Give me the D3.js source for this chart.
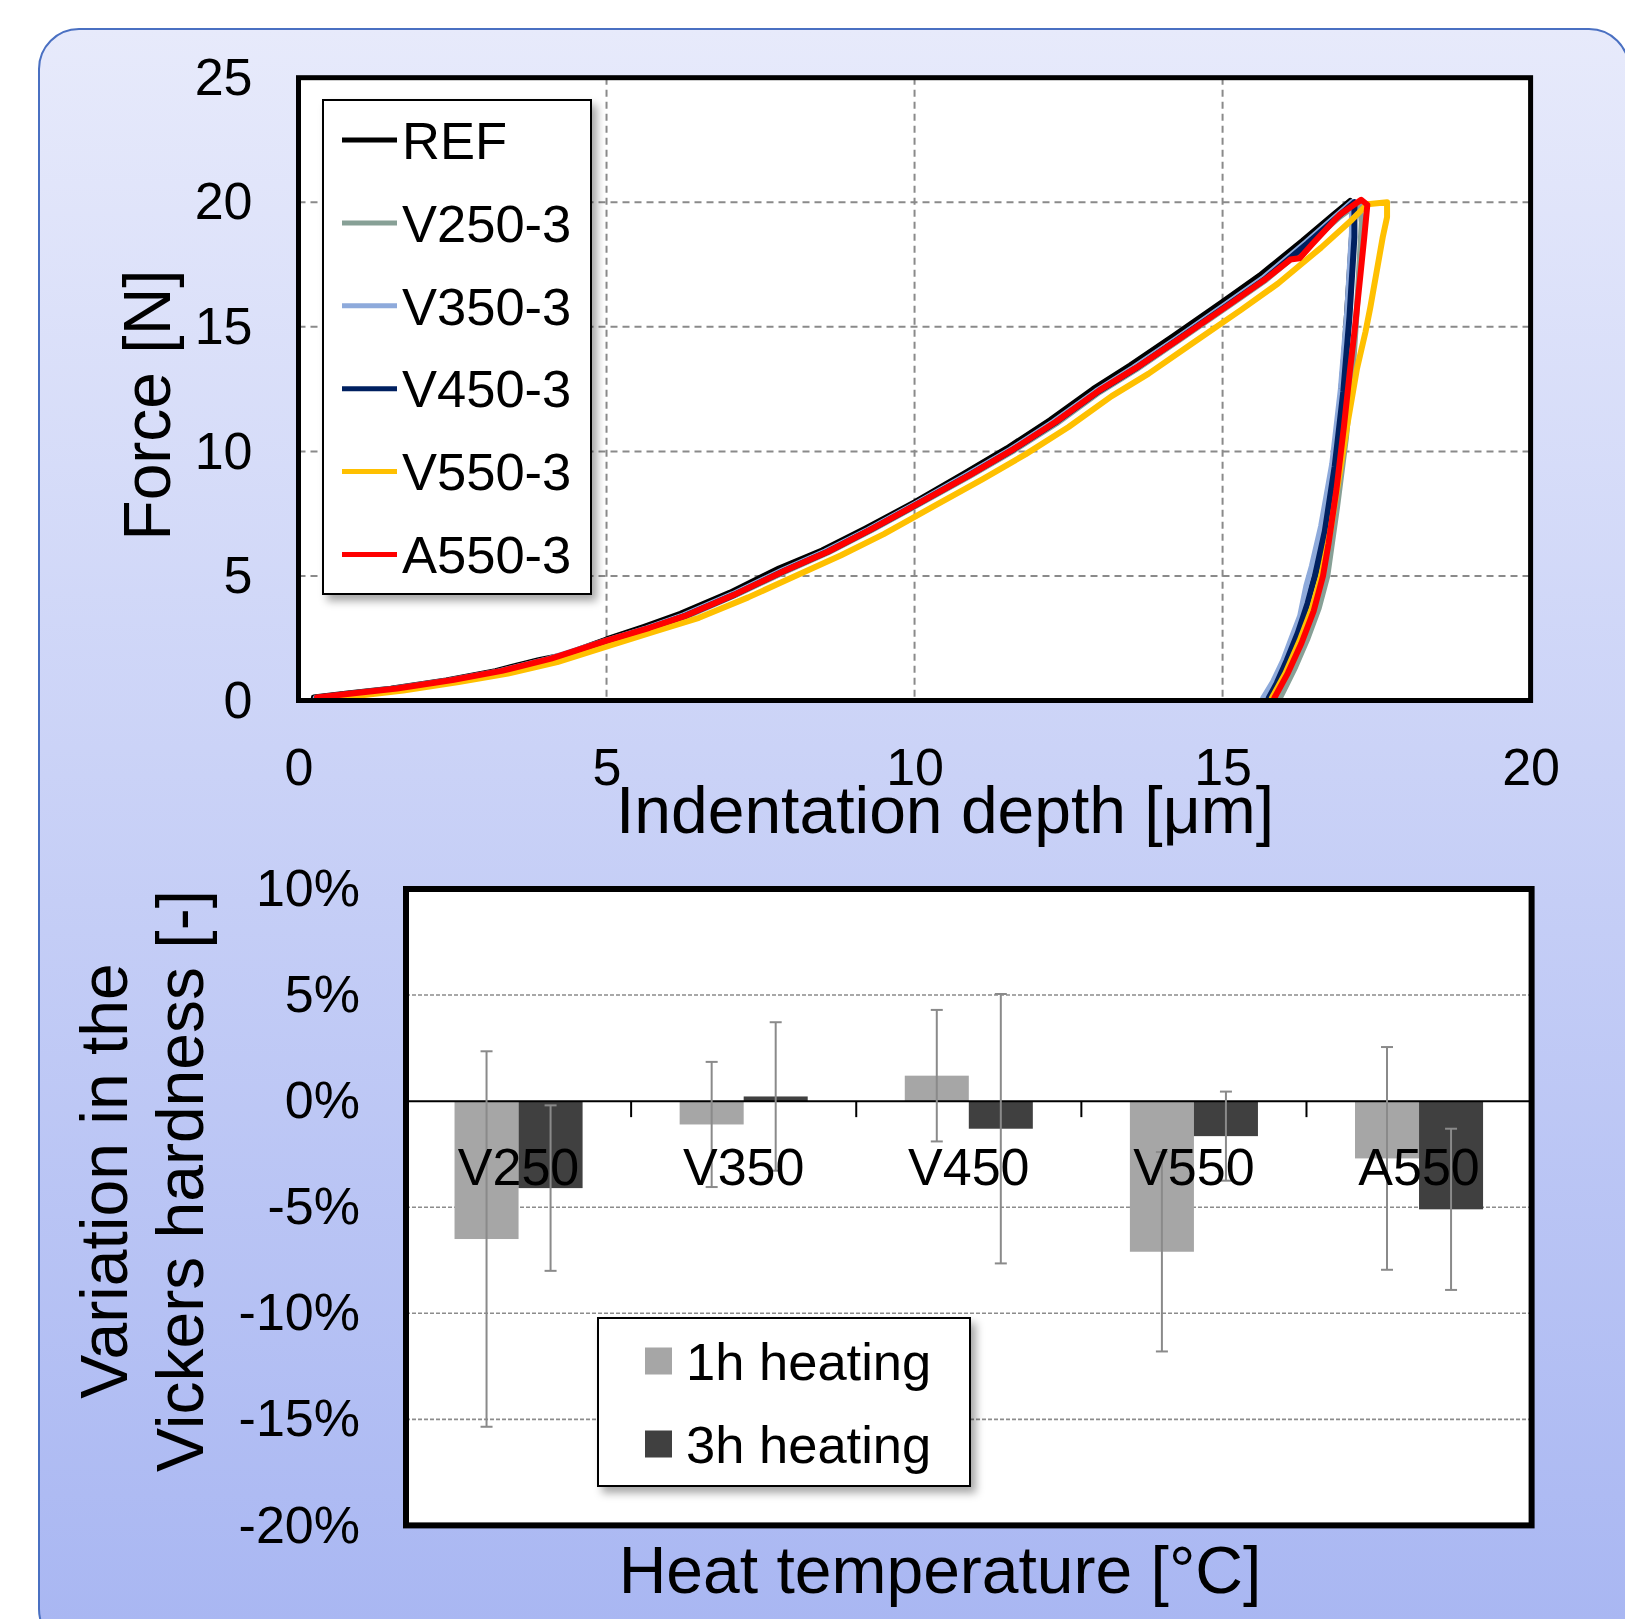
<!DOCTYPE html>
<html>
<head>
<meta charset="utf-8">
<script src="https://cdn.jsdelivr.net/npm/d3@7"></script>
<style>
html, body { margin: 0; padding: 0; background: #fff; }
svg text { font-family: "Liberation Sans", Arial, sans-serif; fill: #000; }
</style>
</head>
<body>
<svg id="chart" width="1625" height="1619"></svg>
<script>
// ---- top chart: indentation curves [depth um, force N] ----
var depthTicks = [0, 5, 10, 15, 20];
var forceTicks = [0, 5, 10, 15, 20, 25];
var seriesNames = ["REF", "V250-3", "V350-3", "V450-3", "V550-3", "A550-3"];
var seriesColors = ["#000000", "#87a096", "#8eaadb", "#002060", "#ffc000", "#ff0000"];

var curveREF = [[0.25,0.12],[0.8,0.28],[1.5,0.47],[2.4,0.8],[3.2,1.18],[3.9,1.62],[4.3,1.82],[5.0,2.45],[5.6,2.95],[6.2,3.48],[7.0,4.32],[7.8,5.3],[8.5,6.02],[9.2,6.9],[10.0,7.95],[10.8,9.1],[11.5,10.12],[12.2,11.25],[12.9,12.5],[13.5,13.45],[14.2,14.62],[15.0,16.0],[15.6,17.05],[16.3,18.45],[16.8,19.5],[17.07,20.05],
  [17.12,19.4],[17.06,17.0],[16.98,14.0],[16.88,11.0],[16.76,8.5],[16.62,6.2],[16.5,5.0],[16.36,3.9],[16.2,2.75],[16.05,1.85],[15.9,1.05],[15.78,0.35],[15.7,0.08]];
var curveV250 = [[0.3,0.1],[0.9,0.26],[1.6,0.46],[2.5,0.8],[3.3,1.15],[4.1,1.64],[5.0,2.36],[5.7,2.88],[6.3,3.38],[7.1,4.24],[7.9,5.18],[8.6,5.95],[9.3,6.84],[10.1,7.92],[10.9,9.02],[11.6,10.02],[12.3,11.12],[13.0,12.38],[13.6,13.3],[14.3,14.48],[15.1,15.84],[15.7,16.88],[16.4,18.32],[16.9,19.42],[17.22,20.0],
  [17.26,19.2],[17.2,16.5],[17.12,13.5],[17.0,10.5],[16.86,7.8],[16.7,5.0],[16.56,3.7],[16.38,2.5],[16.18,1.35],[16.05,0.7],[15.93,0.1]];
var curveV350 = [[0.28,0.1],[0.85,0.27],[1.55,0.47],[2.45,0.8],[3.25,1.17],[4.05,1.66],[5.0,2.4],[5.65,2.9],[6.25,3.42],[7.05,4.27],[7.85,5.22],[8.55,5.98],[9.25,6.86],[10.05,7.94],[10.85,9.06],[11.55,10.06],[12.25,11.18],[12.95,12.42],[13.55,13.36],[14.25,14.52],[15.05,15.9],[15.65,16.94],[16.35,18.38],[16.85,19.46],[17.1,20.0],
  [17.1,18.8],[17.02,15.5],[16.92,12.5],[16.78,9.5],[16.6,7.0],[16.45,5.4],[16.36,4.6],[16.26,3.4],[16.12,2.5],[15.99,1.63],[15.82,0.75],[15.66,0.1]];
var curveV450 = [[0.3,0.1],[0.88,0.27],[1.58,0.46],[2.48,0.79],[3.28,1.16],[4.08,1.65],[5.0,2.38],[5.68,2.89],[6.28,3.4],[7.08,4.25],[7.88,5.2],[8.58,5.96],[9.28,6.85],[10.08,7.93],[10.88,9.04],[11.58,10.04],[12.28,11.15],[12.98,12.4],[13.58,13.32],[14.28,14.5],[15.08,15.87],[15.68,16.9],[16.38,18.35],[16.88,19.44],[17.14,20.0],
  [17.14,18.6],[17.06,15.4],[16.96,12.4],[16.82,9.4],[16.66,6.8],[16.5,5.0],[16.38,3.9],[16.22,2.7],[16.04,1.6],[15.88,0.7],[15.75,0.1]];
var curveV550 = [[0.35,0.05],[1.0,0.2],[1.7,0.4],[2.6,0.74],[3.4,1.08],[4.2,1.54],[5.1,2.24],[5.8,2.78],[6.5,3.32],[7.3,4.14],[8.1,5.04],[8.8,5.82],[9.5,6.68],[10.3,7.78],[11.1,8.88],[11.8,9.88],[12.5,10.98],[13.2,12.22],[13.8,13.12],[14.5,14.32],[15.3,15.68],[15.9,16.74],[16.6,18.18],[17.1,19.3],[17.35,19.92],[17.67,20.0],
  [17.67,19.4],[17.6,18.6],[17.5,17.2],[17.4,15.8],[17.32,14.8],[17.18,13.3],[17.02,11.0],[16.88,8.8],[16.75,6.8],[16.6,5.0],[16.45,3.7],[16.25,2.4],[16.02,1.1],[15.8,0.1]];
var curveA550 = [[0.3,0.12],[0.9,0.29],[1.6,0.48],[2.5,0.82],[3.3,1.19],[4.1,1.68],[5.0,2.4],[5.7,2.92],[6.3,3.42],[7.1,4.28],[7.9,5.22],[8.6,5.98],[9.3,6.88],[10.1,7.96],[10.9,9.06],[11.6,10.08],[12.3,11.2],[13.0,12.45],[13.6,13.36],[14.3,14.52],[15.1,15.88],[15.7,16.92],[16.1,17.7],[16.25,17.75],[16.45,18.3],[16.9,19.5],[17.25,20.1],
  [17.35,19.9],[17.3,18.6],[17.23,16.9],[17.15,15.0],[17.07,13.3],[16.97,11.0],[16.85,8.5],[16.72,6.3],[16.63,5.0],[16.48,3.6],[16.28,2.3],[16.06,1.1],[15.84,0.1]];

// ---- bottom chart: hardness variation [%] ----
var categories = ["V250", "V350", "V450", "V550", "A550"];
var heating1h = [-6.5, -1.1, 1.2, -7.1, -2.7];
var heating1hErr = [8.85, 2.95, 3.1, 4.7, 5.25];
var heating3h = [-4.1, 0.22, -1.3, -1.65, -5.1];
var heating3hErr = [3.9, 3.5, 6.35, 2.1, 3.8];
var pctTicks = [-20, -15, -10, -5, 0, 5, 10];
var barNames = ["1h heating", "3h heating"];
var barColors = ["#a6a6a6", "#404040"];

var svg = d3.select("#chart");
var defs = svg.append("defs");

var grad = defs.append("linearGradient").attr("id", "bg").attr("x1", 0).attr("y1", 0).attr("x2", 0).attr("y2", 1);
grad.append("stop").attr("offset", "0%").attr("stop-color", "#e7eafb");
grad.append("stop").attr("offset", "100%").attr("stop-color", "#a8b6f2");

defs.append("filter").attr("id", "shadow").attr("x", "-10%").attr("y", "-10%").attr("width", "130%").attr("height", "130%")
    .append("feDropShadow").attr("dx", 5).attr("dy", 6).attr("stdDeviation", 4)
    .attr("flood-color", "#000").attr("flood-opacity", 0.35);

// background panel
svg.append("rect").attr("x", 39).attr("y", 29).attr("width", 1590).attr("height", 1620)
    .attr("rx", 40).attr("ry", 40)
    .attr("fill", "url(#bg)").attr("stroke", "#4a70c2").attr("stroke-width", 2);

// ================= top chart =================
var box1 = {left: 298.5, right: 1530.6, top: 77.7, bottom: 700.5};
var x = d3.scaleLinear().domain([0, 20]).range([box1.left, box1.right]);
var y = d3.scaleLinear().domain([0, 25]).range([box1.bottom, box1.top]);

var g1 = svg.append("g");
g1.append("rect").attr("x", box1.left).attr("y", box1.top)
    .attr("width", box1.right - box1.left).attr("height", box1.bottom - box1.top).attr("fill", "#fff");

// grid
g1.selectAll(".vgrid").data(depthTicks.slice(1, -1)).enter().append("line")
    .attr("x1", function (d) { return x(d); }).attr("x2", function (d) { return x(d); })
    .attr("y1", box1.top).attr("y2", box1.bottom)
    .attr("stroke", "#8a8a8a").attr("stroke-width", 2).attr("stroke-dasharray", "7,5");
g1.selectAll(".hgrid").data(forceTicks.slice(1, -1)).enter().append("line")
    .attr("y1", function (d) { return y(d); }).attr("y2", function (d) { return y(d); })
    .attr("x1", box1.left).attr("x2", box1.right)
    .attr("stroke", "#8a8a8a").attr("stroke-width", 2).attr("stroke-dasharray", "7,5");

var curves = [curveREF, curveV250, curveV350, curveV450, curveV550, curveA550];
var line = d3.line().x(function (d) { return x(d[0]); }).y(function (d) { return y(d[1]); });
g1.selectAll(".curve").data(curves).enter().append("path")
    .attr("d", line).attr("fill", "none")
    .attr("stroke", function (d, i) { return seriesColors[i]; })
    .attr("stroke-width", 6).attr("stroke-linejoin", "round").attr("stroke-linecap", "round");

// frame
g1.append("rect").attr("x", box1.left).attr("y", box1.top)
    .attr("width", box1.right - box1.left).attr("height", box1.bottom - box1.top)
    .attr("fill", "none").attr("stroke", "#000").attr("stroke-width", 5);

// axes (labels only)
var yAx = g1.append("g").attr("transform", "translate(" + box1.left + ",0)")
    .call(d3.axisLeft(y).tickValues(forceTicks).tickSize(0).tickPadding(46));
var xAx = g1.append("g").attr("transform", "translate(0," + box1.bottom + ")")
    .call(d3.axisBottom(x).tickValues(depthTicks).tickSize(0).tickPadding(48));
[yAx, xAx].forEach(function (a) {
    a.select(".domain").remove();
    a.selectAll("text").attr("font-size", 52).style("font-family", "'Liberation Sans', Arial, sans-serif");
});

g1.append("text").attr("x", 945).attr("y", 833).attr("text-anchor", "middle")
    .attr("font-size", 66).text("Indentation depth [μm]");
g1.append("text").attr("transform", "translate(170,405) rotate(-90)").attr("text-anchor", "middle")
    .attr("font-size", 66).text("Force [N]");

// legend
var leg1 = g1.append("g");
leg1.append("rect").attr("x", 323).attr("y", 100).attr("width", 268).attr("height", 494)
    .attr("fill", "#fff").attr("stroke", "#000").attr("stroke-width", 2).attr("filter", "url(#shadow)");
var legItem = leg1.selectAll(".li").data(seriesNames).enter().append("g")
    .attr("transform", function (d, i) { return "translate(0," + (140 + i * 82.9) + ")"; });
legItem.append("line").attr("x1", 342).attr("x2", 397).attr("y1", 0).attr("y2", 0)
    .attr("stroke", function (d, i) { return seriesColors[i]; }).attr("stroke-width", 5);
legItem.append("text").attr("x", 402).attr("y", 18.7).attr("font-size", 52.5).text(function (d) { return d; });

// ================= bottom chart =================
var box2 = {left: 406, right: 1531.6, top: 889, bottom: 1525.4};
var xb = d3.scaleBand().domain(categories).range([box2.left, box2.right]).padding(0);
var xs = d3.scaleBand().domain(barNames).range([0, xb.bandwidth()]).paddingInner(0).paddingOuter(0.758);
var yb = d3.scaleLinear().domain([-20, 10]).range([box2.bottom, box2.top]);

var g2 = svg.append("g");
g2.append("rect").attr("x", box2.left).attr("y", box2.top)
    .attr("width", box2.right - box2.left).attr("height", box2.bottom - box2.top).attr("fill", "#fff");

g2.selectAll(".bgrid").data(pctTicks.filter(function (d) { return d !== 0 && d !== -20 && d !== 10; }))
    .enter().append("line")
    .attr("x1", box2.left).attr("x2", box2.right)
    .attr("y1", function (d) { return yb(d); }).attr("y2", function (d) { return yb(d); })
    .attr("stroke", "#8c8c8c").attr("stroke-width", 1.6).attr("stroke-dasharray", "4,2");

var barRows = [
    {name: barNames[0], vals: heating1h, errs: heating1hErr, color: barColors[0]},
    {name: barNames[1], vals: heating3h, errs: heating3hErr, color: barColors[1]}
];

barRows.forEach(function (row) {
    g2.selectAll(null).data(categories).enter().append("rect")
        .attr("x", function (c) { return xb(c) + xs(row.name); })
        .attr("width", xs.bandwidth())
        .attr("y", function (c, i) { return yb(Math.max(0, row.vals[i])); })
        .attr("height", function (c, i) { return Math.abs(yb(row.vals[i]) - yb(0)); })
        .attr("fill", row.color);
});

// zero axis line + category ticks
g2.append("line").attr("x1", box2.left).attr("x2", box2.right).attr("y1", yb(0)).attr("y2", yb(0))
    .attr("stroke", "#000").attr("stroke-width", 2);
g2.selectAll(".ctick").data(categories.slice(1)).enter().append("line")
    .attr("x1", function (c) { return xb(c); }).attr("x2", function (c) { return xb(c); })
    .attr("y1", yb(0)).attr("y2", yb(0) + 16)
    .attr("stroke", "#000").attr("stroke-width", 2);

// error bars
barRows.forEach(function (row) {
    var eg = g2.selectAll(null).data(categories).enter().append("g")
        .attr("transform", function (c) { return "translate(" + (xb(c) + xs(row.name) + xs.bandwidth() / 2) + ",0)"; });
    eg.append("line").attr("x1", 0).attr("x2", 0)
        .attr("y1", function (c, i) { return yb(row.vals[i] + row.errs[i]); })
        .attr("y2", function (c, i) { return yb(row.vals[i] - row.errs[i]); })
        .attr("stroke", "#8a8a8a").attr("stroke-width", 2);
    eg.append("line").attr("x1", -6).attr("x2", 6)
        .attr("y1", function (c, i) { return yb(row.vals[i] + row.errs[i]); })
        .attr("y2", function (c, i) { return yb(row.vals[i] + row.errs[i]); })
        .attr("stroke", "#8a8a8a").attr("stroke-width", 2);
    eg.append("line").attr("x1", -6).attr("x2", 6)
        .attr("y1", function (c, i) { return yb(row.vals[i] - row.errs[i]); })
        .attr("y2", function (c, i) { return yb(row.vals[i] - row.errs[i]); })
        .attr("stroke", "#8a8a8a").attr("stroke-width", 2);
});

// category labels
g2.selectAll(".clab").data(categories).enter().append("text")
    .attr("x", function (c) { return xb(c) + xb.bandwidth() / 2; })
    .attr("y", 1185).attr("text-anchor", "middle").attr("font-size", 52)
    .text(function (c) { return c; });

g2.append("rect").attr("x", box2.left).attr("y", box2.top)
    .attr("width", box2.right - box2.left).attr("height", box2.bottom - box2.top)
    .attr("fill", "none").attr("stroke", "#000").attr("stroke-width", 6);

var ybAx = g2.append("g").attr("transform", "translate(" + box2.left + ",0)")
    .call(d3.axisLeft(yb).tickValues(pctTicks).tickSize(0).tickPadding(46)
        .tickFormat(function (d) { return d + "%"; }));
ybAx.select(".domain").remove();
ybAx.selectAll("text").attr("font-size", 52).style("font-family", "'Liberation Sans', Arial, sans-serif");

g2.append("text").attr("x", 940).attr("y", 1593).attr("text-anchor", "middle")
    .attr("font-size", 66).text("Heat temperature [°C]");
g2.append("text").attr("transform", "translate(127,1181) rotate(-90)").attr("text-anchor", "middle")
    .attr("font-size", 66).text("Variation in the");
g2.append("text").attr("transform", "translate(203,1181) rotate(-90)").attr("text-anchor", "middle")
    .attr("font-size", 66).text("Vickers hardness [-]");

// legend
var leg2 = g2.append("g");
leg2.append("rect").attr("x", 598).attr("y", 1318).attr("width", 372).attr("height", 168)
    .attr("fill", "#fff").attr("stroke", "#000").attr("stroke-width", 2).attr("filter", "url(#shadow)");
var li2 = leg2.selectAll(".li2").data(barNames).enter().append("g")
    .attr("transform", function (d, i) { return "translate(0," + (1361 + i * 83) + ")"; });
li2.append("rect").attr("x", 645).attr("y", -13.5).attr("width", 27).attr("height", 27)
    .attr("fill", function (d, i) { return barColors[i]; });
li2.append("text").attr("x", 686).attr("y", 18.7).attr("font-size", 52.5).text(function (d) { return d; });
</script>
</body>
</html>
